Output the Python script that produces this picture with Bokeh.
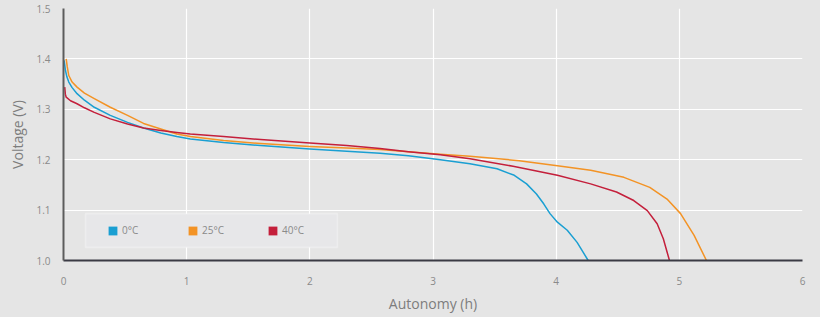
import numpy as np
from bokeh.plotting import figure
from bokeh.models import FixedTicker, Range1d, BoxAnnotation, GlobalInlineStyleSheet, NumeralTickFormatter
from bokeh.embed import file_html
from bokeh.resources import INLINE

# ---- data ----
x_ticks = [0, 1, 2, 3, 4, 5, 6]
y_ticks = [1.0, 1.1, 1.2, 1.3, 1.4, 1.5]

series_names = ["0°C", "25°C", "40°C"]
series_colors = ["#1a9fd2", "#f39325", "#c41f3b"]

x_0c = [0.005, 0.016, 0.028, 0.043, 0.07, 0.11, 0.17, 0.25, 0.38, 0.52, 0.65, 0.79, 0.92,
        1.03, 1.3, 1.6, 2.0, 2.3, 2.57, 2.8, 3.06, 3.3, 3.52, 3.66, 3.76, 3.84, 3.90,
        3.95, 4.01, 4.09, 4.17, 4.26]
y_0c = [1.397, 1.377, 1.364, 1.354, 1.343, 1.331, 1.318, 1.304, 1.288, 1.274, 1.263,
        1.253, 1.246, 1.241, 1.234, 1.228, 1.221, 1.217, 1.213, 1.208, 1.200, 1.192,
        1.182, 1.169, 1.152, 1.132, 1.112, 1.093, 1.076, 1.060, 1.036, 1.000]

x_25c = [0.022, 0.03, 0.043, 0.07, 0.11, 0.17, 0.25, 0.38, 0.52, 0.65, 0.79, 0.92, 1.03,
         1.3, 1.6, 2.0, 2.3, 2.57, 2.8, 3.06, 3.3, 3.7, 4.01, 4.28, 4.55, 4.76, 4.90,
         5.01, 5.12, 5.22]
y_25c = [1.400, 1.385, 1.367, 1.354, 1.344, 1.332, 1.321, 1.304, 1.288, 1.272, 1.261,
         1.251, 1.246, 1.238, 1.232, 1.226, 1.223, 1.220, 1.216, 1.211, 1.207, 1.198,
         1.188, 1.179, 1.165, 1.145, 1.122, 1.093, 1.050, 1.000]

x_40c = [0.01, 0.015, 0.022, 0.057, 0.11, 0.17, 0.25, 0.38, 0.52, 0.65, 0.79, 0.92, 1.03,
         1.3, 1.6, 2.0, 2.3, 2.57, 2.8, 3.06, 3.3, 3.65, 4.01, 4.28, 4.49, 4.63, 4.74,
         4.82, 4.87, 4.92]
y_40c = [1.344, 1.330, 1.324, 1.317, 1.311, 1.303, 1.294, 1.281, 1.271, 1.263, 1.258,
         1.254, 1.251, 1.246, 1.240, 1.233, 1.228, 1.222, 1.216, 1.210, 1.202, 1.187,
         1.169, 1.152, 1.136, 1.119, 1.099, 1.073, 1.043, 1.000]

BG = "#e5e5e5"
FONT = "Open Sans"

p = figure(width=820, height=317, output_backend="svg", toolbar_location=None,
           x_range=Range1d(0, 6), y_range=Range1d(1.0, 1.5),
           min_border_left=63, min_border_right=18, min_border_top=8, min_border_bottom=57)
p.background_fill_color = BG
p.border_fill_color = BG
p.outline_line_color = None
p.stylesheets = [GlobalInlineStyleSheet(css=f"html,body{{margin:0;padding:0;background:{BG};overflow:hidden;}}")]

NAN = [np.nan]
for xs, ys, name, col in zip([x_0c, x_25c, x_40c], [y_0c, y_25c, y_40c], series_names, series_colors):
    p.line(xs, ys, line_color=col, line_width=1.5, line_join="round")
    # legend swatch (not drawn in the plot: NaN extent)
    p.quad(left=NAN, right=NAN, top=NAN, bottom=NAN, fill_color=col, line_color=None,
           legend_label=name)

# grid
p.xgrid.ticker = FixedTicker(ticks=x_ticks)
p.ygrid.ticker = FixedTicker(ticks=y_ticks)
for g in (p.xgrid, p.ygrid):
    g.grid_line_color = "white"
    g.grid_line_width = 1.2

# axes
p.xaxis.ticker = FixedTicker(ticks=x_ticks)
p.yaxis.ticker = FixedTicker(ticks=y_ticks)
p.yaxis.formatter = NumeralTickFormatter(format="0.0")
for ax in (p.xaxis[0], p.yaxis[0]):
    ax.major_tick_line_color = None
    ax.minor_tick_line_color = None
    ax.major_label_text_font = FONT
    ax.major_label_text_font_size = "10px"
    ax.major_label_text_color = "#8a8a8a"
    ax.axis_label_text_font = FONT
    ax.axis_label_text_font_size = "14px"
    ax.axis_label_text_font_style = "normal"
    ax.axis_label_text_color = "#7d7d7d"
    ax.axis_line_width = 2

p.xaxis.axis_label = "Autonomy (h)"
p.yaxis.axis_label = "Voltage (V)"
p.xaxis.axis_line_color = "#3a3a44"
p.yaxis.axis_line_color = "#5c5c5c"
p.xaxis.major_label_standoff = 10
p.xaxis.axis_label_standoff = 6
p.yaxis.major_label_standoff = 7
p.yaxis.axis_label_standoff = 6

# legend box
p.add_layout(BoxAnnotation(left=0.179, right=2.224, bottom=1.026, top=1.093,
                           fill_color="#e7e7e9", fill_alpha=1.0,
                           line_color="white", line_width=1.6, level="underlay"))

lg = p.legend[0]
lg.orientation = "horizontal"
lg.location = (44, 23)
lg.margin = 0
lg.padding = 0
lg.background_fill_alpha = 0
lg.border_line_color = None
lg.glyph_width = 11
lg.glyph_height = 11
lg.label_standoff = 4
lg.label_width = 50
lg.spacing = 15
lg.label_text_font = FONT
lg.label_text_font_size = "10px"
lg.label_text_color = "#8a8a8a"
lg.label_height = 11

open("out.html", "w").write(file_html(p, INLINE))
